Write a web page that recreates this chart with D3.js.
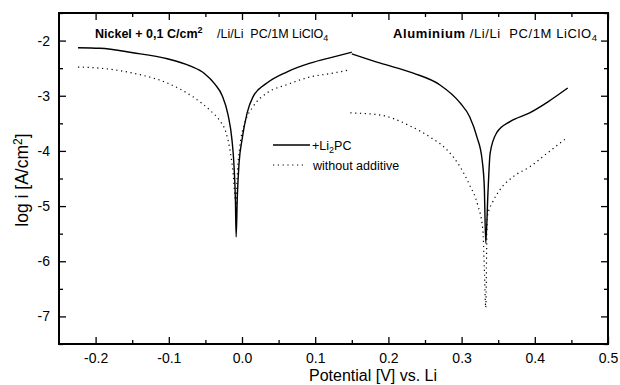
<!DOCTYPE html>
<html>
<head>
<meta charset="utf-8">
<script src="https://cdn.jsdelivr.net/npm/d3@7"></script>
<style>
  body { margin: 0; background: #fff; }
  svg { font-family: "Liberation Sans", Arial, sans-serif; }
</style>
</head>
<body>
<svg id="chart" width="620" height="385"></svg>
<script>
// curve data: [potential V, log i]
const nickelLi2PC = [
  [-0.224, -2.13], [-0.194, -2.14], [-0.149, -2.22], [-0.102, -2.33], [-0.071, -2.46],
  [-0.051, -2.60], [-0.037, -2.79], [-0.027, -3.00], [-0.019, -3.35], [-0.0137, -3.80],
  [-0.011, -4.25], [-0.009, -4.89], [-0.008, -5.56], [-0.0064, -4.83], [-0.004, -4.22],
  [0.0, -3.80], [0.007, -3.31], [0.015, -3.02], [0.034, -2.77], [0.061, -2.57],
  [0.093, -2.41], [0.124, -2.30], [0.150, -2.21]
];
const nickelPlain = [
  [-0.224, -2.48], [-0.194, -2.50], [-0.149, -2.59], [-0.102, -2.77], [-0.067, -3.02],
  [-0.044, -3.26], [-0.030, -3.46], [-0.022, -3.66], [-0.016, -4.02], [-0.012, -4.43],
  [-0.0096, -4.83], [-0.008, -4.98], [-0.0068, -4.53], [-0.003, -3.93], [0.004, -3.49],
  [0.015, -3.20], [0.034, -2.95], [0.061, -2.80], [0.093, -2.66], [0.124, -2.59],
  [0.148, -2.53]
];
const alLi2PC = [
  [0.150, -2.24], [0.189, -2.41], [0.234, -2.59], [0.270, -2.80], [0.298, -3.13],
  [0.311, -3.38], [0.321, -3.75], [0.328, -4.16], [0.331, -4.65], [0.333, -5.67],
  [0.336, -4.76], [0.339, -4.04], [0.348, -3.67], [0.366, -3.47], [0.393, -3.31],
  [0.418, -3.11], [0.445, -2.86]
];
const alPlain = [
  [0.148, -3.31], [0.189, -3.35], [0.230, -3.55], [0.257, -3.75], [0.280, -3.98],
  [0.298, -4.29], [0.311, -4.62], [0.322, -4.98], [0.329, -5.43], [0.331, -6.10],
  [0.333, -6.84], [0.335, -5.20], [0.342, -4.94], [0.352, -4.71], [0.370, -4.47],
  [0.393, -4.29], [0.417, -4.04], [0.445, -3.75]
];

const xMajor = [-0.2, -0.1, 0.0, 0.1, 0.2, 0.3, 0.4, 0.5];
const xMinor = [-0.15, -0.05, 0.05, 0.15, 0.25, 0.35, 0.45];
const yMajor = [-2, -3, -4, -5, -6, -7];
const yMinor = [-2.5, -3.5, -4.5, -5.5, -6.5, -7.5, -1.5];

const legendLabels = ['+Li', 'without additive'];

const svg = d3.select('#chart');
const m = { left: 59, right: 608, top: 13, bottom: 344 };

const x = d3.scaleLinear().domain([-0.25, 0.5]).range([m.left, m.right]);
const y = d3.scaleLinear().domain([-7.5, -1.5]).range([m.bottom, m.top]);

// plain hyphen for negatives, like the original figure
const fmtX = d => d3.format('.1f')(d).replace('\u2212', '-');
const fmtY = d => d3.format('d')(d).replace('\u2212', '-');

// axes, ticks pointing inward
function styleAxis(g) {
  g.select('.domain').remove();
  g.selectAll('.tick line').attr('stroke', '#000').attr('stroke-width', 1.3);
  g.selectAll('.tick text').attr('fill', '#000').style('font-size', '14px');
}

svg.append('g')
  .attr('transform', `translate(0,${m.bottom})`)
  .call(d3.axisBottom(x).tickValues(xMajor).tickSizeInner(-7).tickSizeOuter(0).tickPadding(9)
    .tickFormat(fmtX))
  .call(styleAxis);
svg.append('g')
  .attr('transform', `translate(0,${m.bottom})`)
  .call(d3.axisBottom(x).tickValues(xMinor).tickSizeInner(-4).tickSizeOuter(0).tickFormat(''))
  .call(styleAxis);
svg.append('g')
  .attr('transform', `translate(0,${m.top})`)
  .call(d3.axisTop(x).tickValues(xMajor).tickSizeInner(-7).tickSizeOuter(0).tickFormat(''))
  .call(styleAxis);
svg.append('g')
  .attr('transform', `translate(0,${m.top})`)
  .call(d3.axisTop(x).tickValues(xMinor).tickSizeInner(-4).tickSizeOuter(0).tickFormat(''))
  .call(styleAxis);

svg.append('g')
  .attr('transform', `translate(${m.left},0)`)
  .call(d3.axisLeft(y).tickValues(yMajor).tickSizeInner(-7).tickSizeOuter(0).tickPadding(9)
    .tickFormat(fmtY))
  .call(styleAxis);
svg.append('g')
  .attr('transform', `translate(${m.left},0)`)
  .call(d3.axisLeft(y).tickValues(yMinor).tickSizeInner(-4).tickSizeOuter(0).tickFormat(''))
  .call(styleAxis);
svg.append('g')
  .attr('transform', `translate(${m.right},0)`)
  .call(d3.axisRight(y).tickValues(yMajor).tickSizeInner(-7).tickSizeOuter(0).tickFormat(''))
  .call(styleAxis);
svg.append('g')
  .attr('transform', `translate(${m.right},0)`)
  .call(d3.axisRight(y).tickValues(yMinor).tickSizeInner(-4).tickSizeOuter(0).tickFormat(''))
  .call(styleAxis);

// frame
svg.append('rect')
  .attr('x', m.left).attr('y', m.top)
  .attr('width', m.right - m.left).attr('height', m.bottom - m.top)
  .attr('fill', 'none').attr('stroke', '#000').attr('stroke-width', 2);

// curves
const line = d3.line()
  .x(d => x(d[0]))
  .y(d => y(d[1]))
  .curve(d3.curveMonotoneX);

function drawSolid(data) {
  svg.append('path').datum(data)
    .attr('d', line)
    .attr('fill', 'none').attr('stroke', '#000').attr('stroke-width', 1.4);
}
function drawDotted(data) {
  svg.append('path').datum(data)
    .attr('d', line)
    .attr('fill', 'none').attr('stroke', '#000').attr('stroke-width', 1.2)
    .attr('stroke-dasharray', '1.2,3.6');
}
drawDotted(nickelPlain);
drawDotted(alPlain);
drawSolid(nickelLi2PC);
drawSolid(alLi2PC);

// legend
const lg = svg.append('g').style('font-size', '12.5px');
lg.append('line').attr('x1', 273).attr('x2', 310).attr('y1', 145).attr('y2', 145)
  .attr('stroke', '#000').attr('stroke-width', 1.4);
const t1 = lg.append('text').attr('x', 312).attr('y', 150);
t1.append('tspan').text(legendLabels[0]);
t1.append('tspan').attr('dy', 3).style('font-size', '9px').text('2');
t1.append('tspan').attr('dy', -3).text('PC');
lg.append('line').attr('x1', 273).attr('x2', 306).attr('y1', 165).attr('y2', 165)
  .attr('stroke', '#000').attr('stroke-width', 1.2).attr('stroke-dasharray', '1.2,3.6');
lg.append('text').attr('x', 313).attr('y', 170).text(legendLabels[1]);

// panel titles
const nt = svg.append('text').attr('x', 95).attr('y', 38).style('font-size', '12.5px');
nt.append('tspan').style('font-weight', 'bold').text('Nickel + 0,1 C/cm');
nt.append('tspan').style('font-weight', 'bold').style('font-size', '9px').attr('dy', -5).text('2');
nt.append('tspan').attr('x', 217).attr('dy', 5).text('/Li/Li\u00a0\u00a0PC/1M LiClO');
nt.append('tspan').style('font-size', '9px').attr('dy', 3).text('4');

const at = svg.append('text').attr('x', 393).attr('y', 38).style('font-size', '13px')
  .attr('textLength', 204).attr('lengthAdjust', 'spacing');
at.append('tspan').style('font-weight', 'bold').text('Aluminium');
at.append('tspan').text('\u00a0/Li/Li\u00a0\u00a0PC/1M LiClO');
at.append('tspan').style('font-size', '9.5px').attr('dy', 3).text('4');

// axis titles
svg.append('text')
  .attr('x', 373).attr('y', 381)
  .attr('text-anchor', 'middle')
  .style('font-size', '16px')
  .text('Potential [V] vs. Li');

const yt = svg.append('text')
  .attr('transform', 'translate(28,180) rotate(-90)')
  .attr('text-anchor', 'middle')
  .style('font-size', '17.5px');
yt.append('tspan').text('log i [A/cm');
yt.append('tspan').attr('dy', -6).style('font-size', '12px').text('2');
yt.append('tspan').attr('dy', 6).text(']');
</script>
</body>
</html>
